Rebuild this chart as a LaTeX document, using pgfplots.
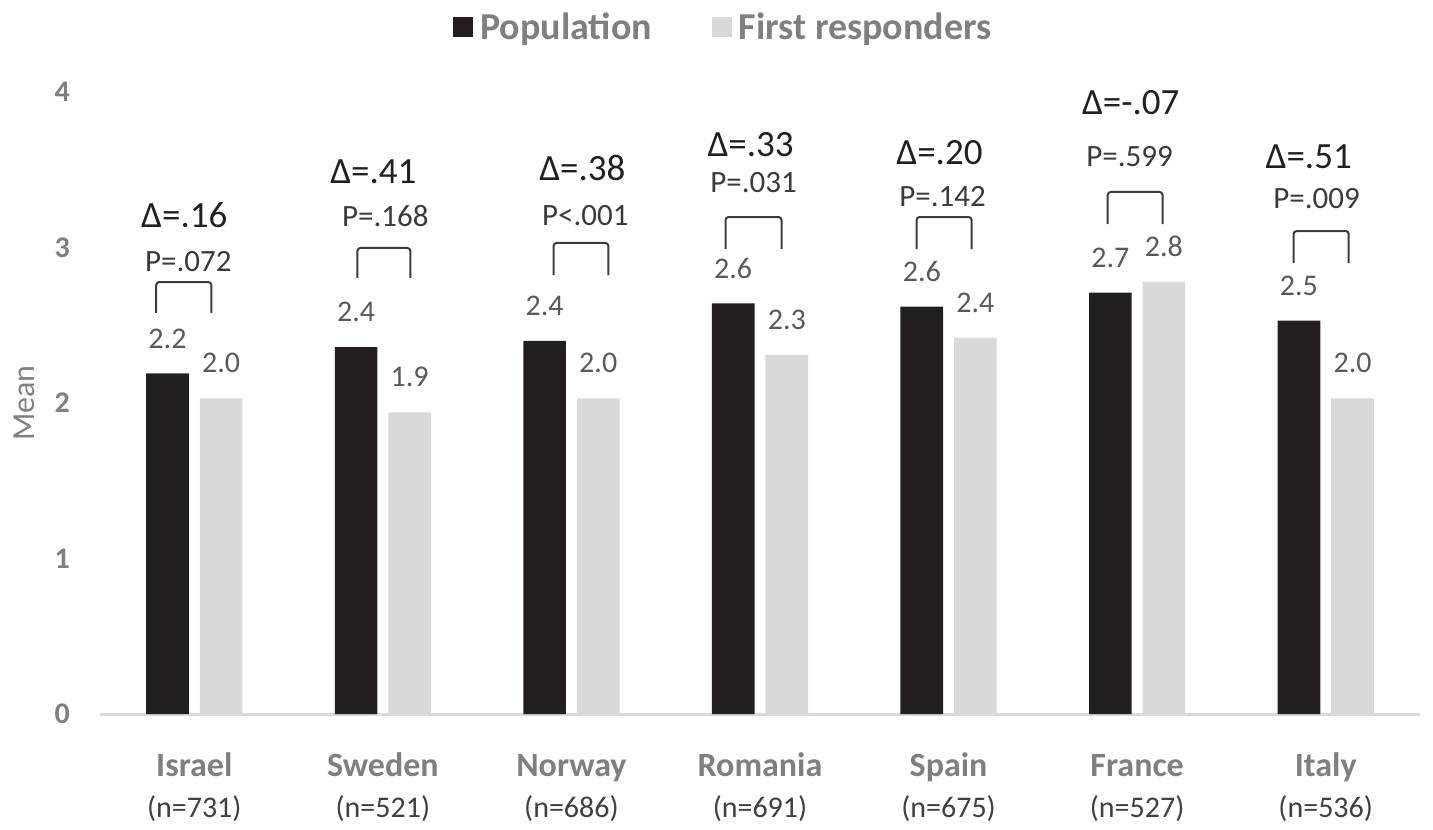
\documentclass[border=0pt]{standalone}
\usepackage{pgfplots}
\usepackage{pgfplotstable}
\pgfplotsset{compat=1.18}
\usepackage{fontspec}
\setmainfont{Carlito}
\definecolor{barblack}{HTML}{231F20}
\definecolor{bargray}{HTML}{D9D9DA}
\definecolor{labgray}{HTML}{7F7F7F}
\definecolor{valgray}{HTML}{595959}
\definecolor{ngray}{HTML}{404040}
\definecolor{pgray}{HTML}{3A3A3A}
\definecolor{axisgray}{HTML}{D9D9D9}
\definecolor{brgray}{HTML}{3C3C3C}

\pgfplotstableread{
x pop fr
0 2.19 2.03
1 2.36 1.94
2 2.40 2.03
3 2.64 2.31
4 2.62 2.42
5 2.71 2.78
6 2.53 2.03
}\data

\newcommand{\cat}[2]{{\fontsize{34}{41}\selectfont\bfseries\color{labgray}\vphantom{l}#1}\\(n=#2)}

\begin{document}
\begin{tikzpicture}
\begin{axis}[
  scale only axis,
  width=1320pt, height=622pt,
  xmin=-0.5, xmax=6.5, ymin=0, ymax=4,
  /pgf/number format/assume math mode=true,
  clip=false,
  separate axis lines,
  axis x line*=bottom, axis y line*=left,
  x axis line style={-, draw=axisgray, line width=3pt},
  y axis line style={draw=none},
  major tick length=0pt,
  tick style={draw=none},
  ytick={0,1,2,3,4},
  yticklabel style={inner sep=0pt, anchor=east, xshift=-30pt, text=labgray,
    font=\fontsize{30}{36}\selectfont\bfseries},
  xtick={0,1,2,3,4,5,6},
  xticklabels={
    {\cat{Israel}{731}},
    {\cat{Sweden}{521}},
    {\cat{Norway}{686}},
    {\cat{Romania}{691}},
    {\cat{Spain}{675}},
    {\cat{France}{527}},
    {\cat{Italy}{536}}},
  xticklabel style={align=center, inner sep=0pt, anchor=north, yshift=-38pt,
    text=ngray, font=\fontsize{30}{41}\selectfont},
  ylabel={Mean},
  ylabel style={at={(axis description cs:-0.0576,0.5)}, anchor=center,
    text=labgray, font=\fontsize{32}{38}\selectfont},
  legend style={draw=none, fill=none, inner sep=0pt,
    at={(axis description cs:0.4715,1.1045)}, anchor=center,
    font=\fontsize{38}{45}\selectfont\bfseries, text=labgray,
    nodes={inner sep=0pt},
    /tikz/every odd column/.append style={column sep=7pt},
    /tikz/every even column/.append style={column sep=60pt}},
  legend columns=2,
  legend image code/.code={\fill[#1] (0pt,-10pt) rectangle (20pt,10pt);},
  nodes near coords,
  point meta=y,
  nodes near coords style={font=\fontsize{30}{36}\selectfont, text=valgray,
    inner sep=0pt, anchor=south, yshift=25pt,
    /pgf/number format/fixed, /pgf/number format/fixed zerofill,
    /pgf/number format/precision=1},
]
\addplot[ybar, bar width=0.226, bar shift=-0.142, fill=barblack, draw=none,
  nodes near coords style={xshift=-26.8pt}]
  table[x=x, y=pop] {\data};
\addlegendentry{Population}
\addplot[ybar, bar width=0.226, bar shift=0.142, fill=bargray, draw=none,
  nodes near coords style={xshift=26.8pt}]
  table[x=x, y=fr] {\data};
\addlegendentry{First responders}

% Delta annotations
\begin{scope}[every node/.style={font=\fontsize{37}{44}\selectfont, text=barblack, inner sep=0pt}]
\node at (axis cs:-0.053,3.209) {Δ=.16};
\node at (axis cs:0.95,3.486) {Δ=.41};
\node at (axis cs:2.058,3.511) {Δ=.38};
\node at (axis cs:2.950,3.659) {Δ=.33};
\node at (axis cs:3.952,3.608) {Δ=.20};
\node at (axis cs:4.966,3.929) {Δ=-.07};
\node at (axis cs:5.910,3.582) {Δ=.51};
\end{scope}
% P annotations
\begin{scope}[every node/.style={font=\fontsize{31}{37}\selectfont, text=pgray, inner sep=0pt}]
\node at (axis cs:-0.032,2.907) {P=.072};
\node at (axis cs:1.013,3.203) {P=.168};
\node at (axis cs:2.074,3.203) {P<.001};
\node at (axis cs:2.966,3.415) {P=.031};
\node at (axis cs:3.968,3.325) {P=.142};
\node at (axis cs:4.960,3.588) {P=.599};
\node at (axis cs:5.952,3.312) {P=.009};
\end{scope}
% brackets
\begin{scope}[draw=brgray, line width=2pt, rounded corners=3pt]
\draw (axis cs:-0.202,2.579) -- (axis cs:-0.202,2.778) -- (axis cs:0.090,2.778) -- (axis cs:0.090,2.579);
\draw (axis cs:0.865,2.804) -- (axis cs:0.865,2.997) -- (axis cs:1.146,2.997) -- (axis cs:1.146,2.804);
\draw (axis cs:1.905,2.823) -- (axis cs:1.905,3.029) -- (axis cs:2.196,3.029) -- (axis cs:2.196,2.823);
\draw (axis cs:2.817,2.990) -- (axis cs:2.817,3.196) -- (axis cs:3.114,3.196) -- (axis cs:3.114,2.990);
\draw (axis cs:3.830,2.990) -- (axis cs:3.830,3.196) -- (axis cs:4.122,3.196) -- (axis cs:4.122,2.990);
\draw (axis cs:4.844,3.151) -- (axis cs:4.844,3.357) -- (axis cs:5.135,3.357) -- (axis cs:5.135,3.151);
\draw (axis cs:5.830,2.900) -- (axis cs:5.830,3.106) -- (axis cs:6.122,3.106) -- (axis cs:6.122,2.900);
\end{scope}
\end{axis}
\pgfresetboundingbox
\path ([shift={(-100pt,-115pt)}]current axis.south west) rectangle ([shift={(13pt,92pt)}]current axis.north east);
\end{tikzpicture}
\end{document}
